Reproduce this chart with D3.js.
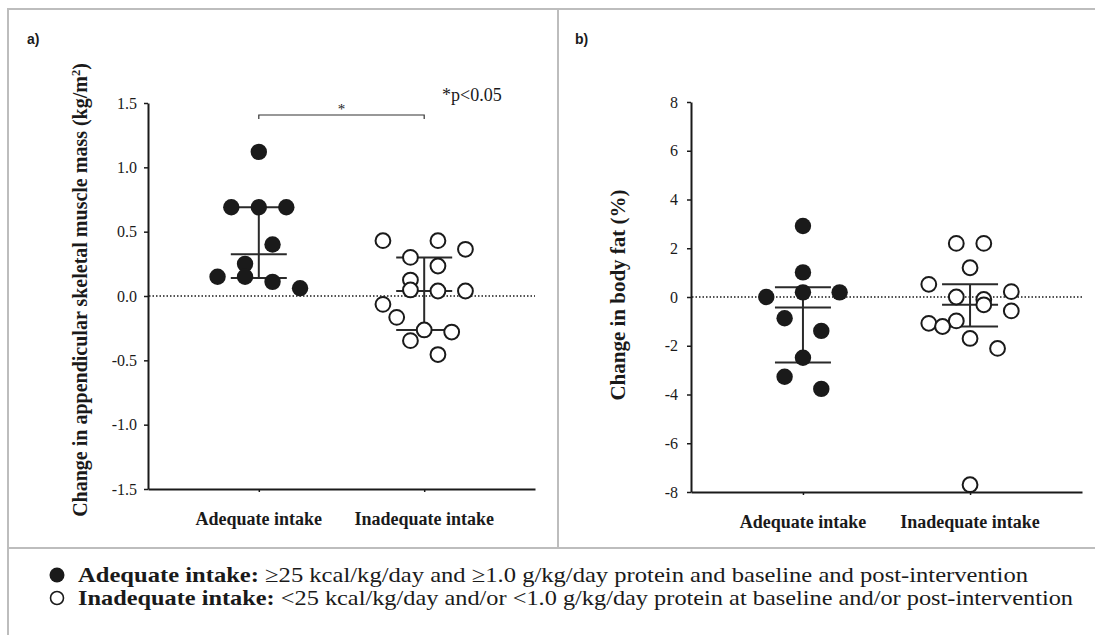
<!DOCTYPE html>
<html>
<head>
<meta charset="utf-8">
<script src="https://cdn.jsdelivr.net/npm/d3@7"></script>
<style>
  body { margin: 0; background: #fff; }
</style>
</head>
<body>
<div id="viz"></div>
<script>
const w = 1095;
const h = 635;

// categories
const groups = ['Adequate intake', 'Inadequate intake'];

// a) change in appendicular skeletal muscle mass (kg/m2)
const muscleAdequate = [1.12, 0.69, 0.69, 0.69, 0.25, 0.40, 0.15, 0.15, 0.11, 0.06];
const muscleInadequate = [0.43, 0.30, 0.43, 0.363, 0.124, 0.233, -0.065, 0.047, 0.039, 0.039,
    -0.166, -0.264, -0.28, -0.347, -0.455];
const muscleTicks = [-1.5, -1.0, -0.5, 0.0, 0.5, 1.0, 1.5];

// b) change in body fat (%)
const fatAdequate = [2.91, 1.01, 0, 0.19, 0.19, -0.87, -1.39, -2.49, -3.27, -3.77];
const fatInadequate = [2.2, 2.2, 1.2, 0.52, 0, -0.1, 0.22, -1.08, -0.98, -0.32, -0.57,
    -1.21, -1.70, -2.11, -7.7];
const fatTicks = [-8, -6, -4, -2, 0, 2, 4, 6, 8];

const legendRows = [
    { bold: 'Adequate intake:', rest: ' \u226525 kcal/kg/day and \u22651.0 g/kg/day protein and baseline and post-intervention', filled: true, len: 950 },
    { bold: 'Inadequate intake:', rest: ' <25 kcal/kg/day and/or <1.0 g/kg/day protein at baseline and/or post-intervention', filled: false, len: 995 }
];

const ink = '#1a1a1a';
const frame = '#bdbdbd';
const serif = '"Liberation Serif", "Times New Roman", serif';

const svg = d3.select('#viz').append('svg')
    .attr('width', w)
    .attr('height', h)
    .attr('font-family', serif)

// outer frame and panel dividers
svg.append('path')
    .attr('d', `M8,${h} V9 H${w}`)
    .attr('fill', 'none')
    .attr('stroke', frame)
    .attr('stroke-width', 2)
svg.append('line')
    .attr('x1', 558).attr('x2', 558).attr('y1', 9).attr('y2', 548)
    .attr('stroke', frame).attr('stroke-width', 2)
svg.append('line')
    .attr('x1', 8).attr('x2', w).attr('y1', 548).attr('y2', 548)
    .attr('stroke', frame).attr('stroke-width', 2)

// GraphPad style quartiles: position (n+1)p
function quart(values, p) {
    const s = values.slice().sort((a, b) => a - b);
    const n = s.length;
    const pos = (n + 1) * p;
    const lo = Math.floor(pos);
    if (lo < 1) return s[0];
    if (lo >= n) return s[n - 1];
    return s[lo - 1] + (pos - lo) * (s[lo] - s[lo - 1]);
}

// column scatter: bin points from the bottom, spread each bin around the centre
function swarm(values, y, binPx, spread) {
    const order = values.map((v, i) => i).sort((a, b) => values[a] - values[b] || a - b);
    const bins = [];
    let cur = null;
    order.forEach(i => {
        if (!cur || y(cur.start) - y(values[i]) > binPx) {
            cur = { start: values[i], items: [] };
            bins.push(cur);
        }
        cur.items.push(i);
    });
    const maxBin = d3.max(bins, b => b.items.length);
    const unit = spread / maxBin;
    const offsets = new Array(values.length);
    bins.forEach(b => {
        b.items.sort((a, c) => a - c);
        const n = b.items.length;
        b.items.forEach((i, k) => { offsets[i] = (2 * k - (n - 1)) * unit; });
    });
    return values.map((v, i) => ({ value: v, dx: offsets[i] }));
}

function panel(cfg) {
    const g = svg.append('g');

    const y = d3.scaleLinear().domain(cfg.domain).range([cfg.bottom, cfg.top]);
    const x = d3.scalePoint().domain(groups).range([cfg.left, cfg.right]).padding(0.67);

    // y axis
    const yAxis = g.append('g')
        .attr('transform', `translate(${cfg.left},0)`)
        .call(d3.axisLeft(y).tickValues(cfg.ticks).tickFormat(cfg.format)
            .tickSize(4).tickSizeOuter(0).tickPadding(cfg.pad))
    yAxis.attr('font-family', serif)
    yAxis.select('.domain').attr('stroke', ink).attr('stroke-width', 2)
    yAxis.selectAll('.tick line').attr('stroke', ink).attr('stroke-width', 1.5)
    yAxis.selectAll('.tick text')
        .attr('font-size', 16)
        .attr('fill', ink)

    // x axis
    const xAxis = g.append('g')
        .attr('transform', `translate(0,${cfg.bottom})`)
        .call(d3.axisBottom(x).tickSize(3).tickSizeOuter(0).tickFormat(''))
    xAxis.select('.domain').attr('stroke', ink).attr('stroke-width', 2)
    xAxis.selectAll('.tick line').attr('stroke', ink).attr('stroke-width', 1.5)

    g.selectAll('.cat')
        .data(groups)
        .join('text')
        .attr('class', 'cat')
        .attr('x', d => x(d))
        .attr('y', cfg.bottom + 36)
        .attr('text-anchor', 'middle')
        .attr('font-weight', 'bold')
        .attr('font-size', 18)
        .attr('fill', ink)
        .text(d => d)

    // zero reference
    g.append('line')
        .attr('x1', cfg.left + 1).attr('x2', cfg.right)
        .attr('y1', y(0)).attr('y2', y(0))
        .attr('stroke', ink)
        .attr('stroke-width', 1.4)
        .attr('stroke-dasharray', '1.5,2')

    // y title
    const title = g.append('text')
        .attr('transform', `translate(${cfg.titleX},${cfg.titleY}) rotate(-90)`)
        .attr('text-anchor', 'middle')
        .attr('font-weight', 'bold')
        .attr('font-size', cfg.titleSize)
        .attr('fill', ink)
    title.append('tspan').text(cfg.title)
    if (cfg.titleSup) {
        title.append('tspan').attr('baseline-shift', 'super').attr('font-size', cfg.titleSize * 0.62).text(cfg.titleSup)
        title.append('tspan').text(cfg.titleEnd)
    }

    // panel letter
    g.append('text')
        .attr('x', cfg.letterX)
        .attr('y', 44)
        .attr('font-family', '"Liberation Sans", Arial, sans-serif')
        .attr('font-weight', 'bold')
        .attr('font-size', 14)
        .attr('fill', ink)
        .text(cfg.letter)

    // median with interquartile range, then points on top
    cfg.series.forEach((vals, si) => {
        const cx = x(groups[si]);
        const q1 = quart(vals, 0.25), med = quart(vals, 0.5), q3 = quart(vals, 0.75);
        const bars = g.append('g').attr('stroke', '#2a2a2a').attr('stroke-width', 2);
        bars.append('line').attr('x1', cx).attr('x2', cx).attr('y1', y(q3)).attr('y2', y(q1));
        [q1, med, q3].forEach(v => {
            bars.append('line')
                .attr('x1', cx - 28).attr('x2', cx + 28)
                .attr('y1', y(v)).attr('y2', y(v));
        });

        const pts = swarm(vals, y, 22, 55);
        g.append('g').selectAll('circle')
            .data(pts)
            .join('circle')
            .attr('cx', d => cx + d.dx)
            .attr('cy', d => y(d.value))
            .attr('r', si === 0 ? 8.2 : 7.4)
            .attr('fill', si === 0 ? ink : '#fff')
            .attr('stroke', ink)
            .attr('stroke-width', si === 0 ? 0 : 2)
    });

    return { x, y, g };
}

const pa = panel({
    letter: 'a)', letterX: 27,
    left: 148, right: 535, top: 103, bottom: 489,
    domain: [-1.5, 1.5], ticks: muscleTicks, format: d => d.toFixed(1), pad: 7,
    series: [muscleAdequate, muscleInadequate],
    title: 'Change in appendicular skeletal muscle mass (kg/m', titleSup: '2', titleEnd: ')',
    titleX: 87, titleY: 290, titleSize: 20
});

const pb = panel({
    letter: 'b)', letterX: 575,
    left: 691, right: 1082, top: 102, bottom: 492,
    domain: [-8, 8], ticks: fatTicks, format: d => String(d), pad: 9,
    series: [fatAdequate, fatInadequate],
    title: 'Change in body fat (%)',
    titleX: 625, titleY: 295, titleSize: 21
});

// significance bracket
const bracketY = 115;
const x1 = pa.x(groups[0]), x2 = pa.x(groups[1]);
pa.g.append('path')
    .attr('d', `M${x1},${bracketY + 4} V${bracketY} H${x2} V${bracketY + 4}`)
    .attr('fill', 'none')
    .attr('stroke', '#333')
    .attr('stroke-width', 1.2)
pa.g.append('text')
    .attr('x', (x1 + x2) / 2)
    .attr('y', bracketY - 1)
    .attr('text-anchor', 'middle')
    .attr('font-size', 15)
    .attr('fill', ink)
    .text('*')
pa.g.append('text')
    .attr('x', 442)
    .attr('y', 101)
    .attr('font-size', 18)
    .attr('fill', ink)
    .text('*p<0.05')

// legend
const legend = svg.append('g')
legendRows.forEach((row, i) => {
    const ly = 575 + i * 23;
    legend.append('circle')
        .attr('cx', 57)
        .attr('cy', ly)
        .attr('r', row.filled ? 7.5 : 6.5)
        .attr('fill', row.filled ? ink : '#fff')
        .attr('stroke', ink)
        .attr('stroke-width', row.filled ? 0 : 1.6)
    const t = legend.append('text')
        .attr('x', 78)
        .attr('y', ly + 7)
        .attr('font-size', 22)
        .attr('fill', ink)
        .attr('textLength', row.len)
        .attr('lengthAdjust', 'spacingAndGlyphs')
    t.append('tspan').attr('font-weight', 'bold').text(row.bold)
    t.append('tspan').text(row.rest)
});
</script>
</body>
</html>
